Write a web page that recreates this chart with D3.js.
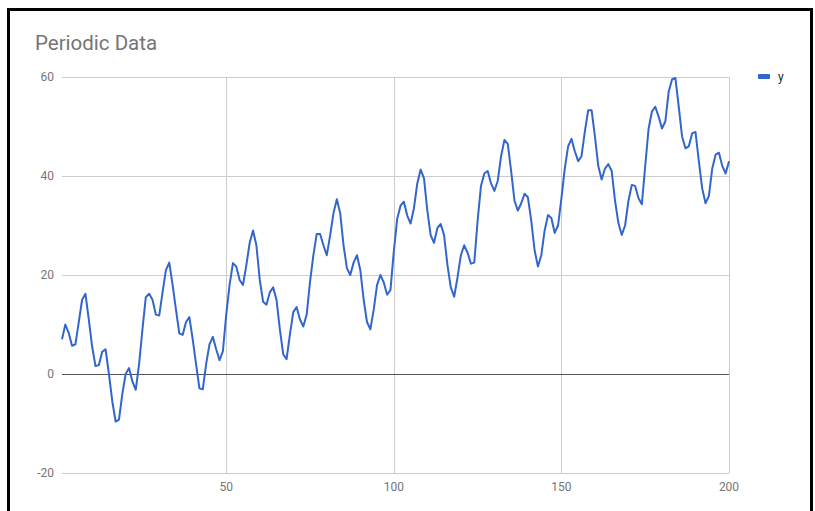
<!DOCTYPE html>
<html><head><meta charset="utf-8">
<script src="https://cdn.jsdelivr.net/npm/d3@7"></script>
<style>body{margin:0;background:#fff;}svg{display:block;}</style>
</head><body>
<script>
const title = "Periodic Data";
const seriesName = "y";
const xValues = d3.range(1, 201);
const yValues = [
 7, 10, 8.3, 5.7, 6, 10.5, 15, 16.2, 11, 5.5,
 1.6, 1.8, 4.5, 5, 0, -5.5, -9.6, -9.2, -4, 0,
 1.2, -1.5, -3.2, 2, 9, 15.5, 16.2, 15, 12, 11.8,
 16.5, 21, 22.5, 18, 13, 8.2, 7.9, 10.5, 11.5, 7,
 2, -2.9, -3.1, 2, 6, 7.5, 5, 2.8, 4.6, 12,
 18, 22.4, 21.7, 19, 18, 22, 26.5, 29, 26, 19,
 14.6, 14, 16.5, 17.5, 15, 9, 4, 3, 8, 12.5,
 13.5, 11, 9.6, 12, 18.6, 24, 28.3, 28.3, 26, 24,
 28, 32.5, 35.3, 32.5, 26, 21.4, 20, 22.5, 24, 21,
 15, 10.5, 9, 13, 18, 20, 18.5, 16, 17, 24.8,
 31.3, 34, 34.8, 32, 30.4, 33.5, 38.5, 41.3, 39.5, 33,
 28, 26.5, 29.5, 30.3, 28, 22, 17.5, 15.6, 19.5, 24,
 26, 24.5, 22.3, 22.5, 31, 38, 40.5, 41, 38.5, 37,
 39, 44, 47.3, 46.5, 41, 35, 33, 34.5, 36.4, 35.7,
 31, 25, 21.7, 24, 29, 32.1, 31.5, 28.5, 30, 35.5,
 41.5, 46, 47.5, 45, 43, 44, 49, 53.3, 53.3, 48,
 42, 39.3, 41.5, 42.4, 41, 35, 30.5, 28.1, 30, 35,
 38.2, 38, 35.5, 34.3, 42, 49.5, 53, 54, 52, 49.6,
 51, 57, 59.5, 59.8, 54, 48, 45.6, 46, 48.6, 48.9,
 43, 37.5, 34.5, 36, 41.5, 44.3, 44.7, 42, 40.5, 43
];
const yTicks = [-20, 0, 20, 40, 60];
const xTicks = [50, 100, 150, 200];

(function () {
const W = 815, H = 511;
const svg = d3.select("body").append("svg").attr("width", W).attr("height", H);
svg.append("rect").attr("width", W).attr("height", H).attr("fill", "#fff");
svg.append("path").attr("d", "M8.5,520 L8.5,9.5 L811.5,9.5 L811.5,520")
  .attr("fill", "none").attr("stroke", "#000").attr("stroke-width", 3);

const mL = 62, mR = 729, mT = 77, mB = 473;
const x = d3.scaleLinear().domain([1, 200]).range([mL, mR]);
const y = d3.scaleLinear().domain([-20, 60]).range([mB, mT]);
const font = "Roboto, Arial, sans-serif";

svg.append("text").attr("x", 35).attr("y", 50).text(title)
  .attr("font-family", font).attr("font-size", 20.5).attr("fill", "#757575");

svg.append("g").selectAll("line").data(yTicks.filter(d => d !== 0)).join("line")
  .attr("x1", mL).attr("x2", mR)
  .attr("y1", d => Math.round(y(d)) + 0.5).attr("y2", d => Math.round(y(d)) + 0.5)
  .attr("stroke", "#ccc");
svg.append("g").selectAll("line").data(xTicks).join("line")
  .attr("y1", mT).attr("y2", mB)
  .attr("x1", d => Math.round(x(d)) + 0.5).attr("x2", d => Math.round(x(d)) + 0.5)
  .attr("stroke", "#ccc");
svg.append("line").attr("x1", mL).attr("x2", mR)
  .attr("y1", Math.round(y(0)) + 0.5).attr("y2", Math.round(y(0)) + 0.5)
  .attr("stroke", "#555");

svg.append("g").selectAll("text").data(yTicks).join("text")
  .attr("x", 54).attr("y", d => y(d) + 4).attr("text-anchor", "end")
  .attr("font-family", font).attr("font-size", 12).attr("fill", "#757575")
  .text(d => d);
svg.append("g").selectAll("text").data(xTicks).join("text")
  .attr("x", d => x(d)).attr("y", 491).attr("text-anchor", "middle")
  .attr("font-family", font).attr("font-size", 12).attr("fill", "#757575")
  .text(d => d);

const line = d3.line().x((d, i) => x(xValues[i])).y(d => y(d));
svg.append("path").datum(yValues).attr("d", line)
  .attr("fill", "none").attr("stroke", "#3366cc").attr("stroke-width", 2)
  .attr("stroke-linejoin", "round");

svg.append("rect").attr("x", 758).attr("y", 74).attr("width", 12).attr("height", 5)
  .attr("rx", 1).attr("fill", "#3366cc");
svg.append("text").attr("x", 778).attr("y", 81).text(seriesName)
  .attr("font-family", font).attr("font-size", 12).attr("fill", "#222");
})();
</script>
</body></html>
